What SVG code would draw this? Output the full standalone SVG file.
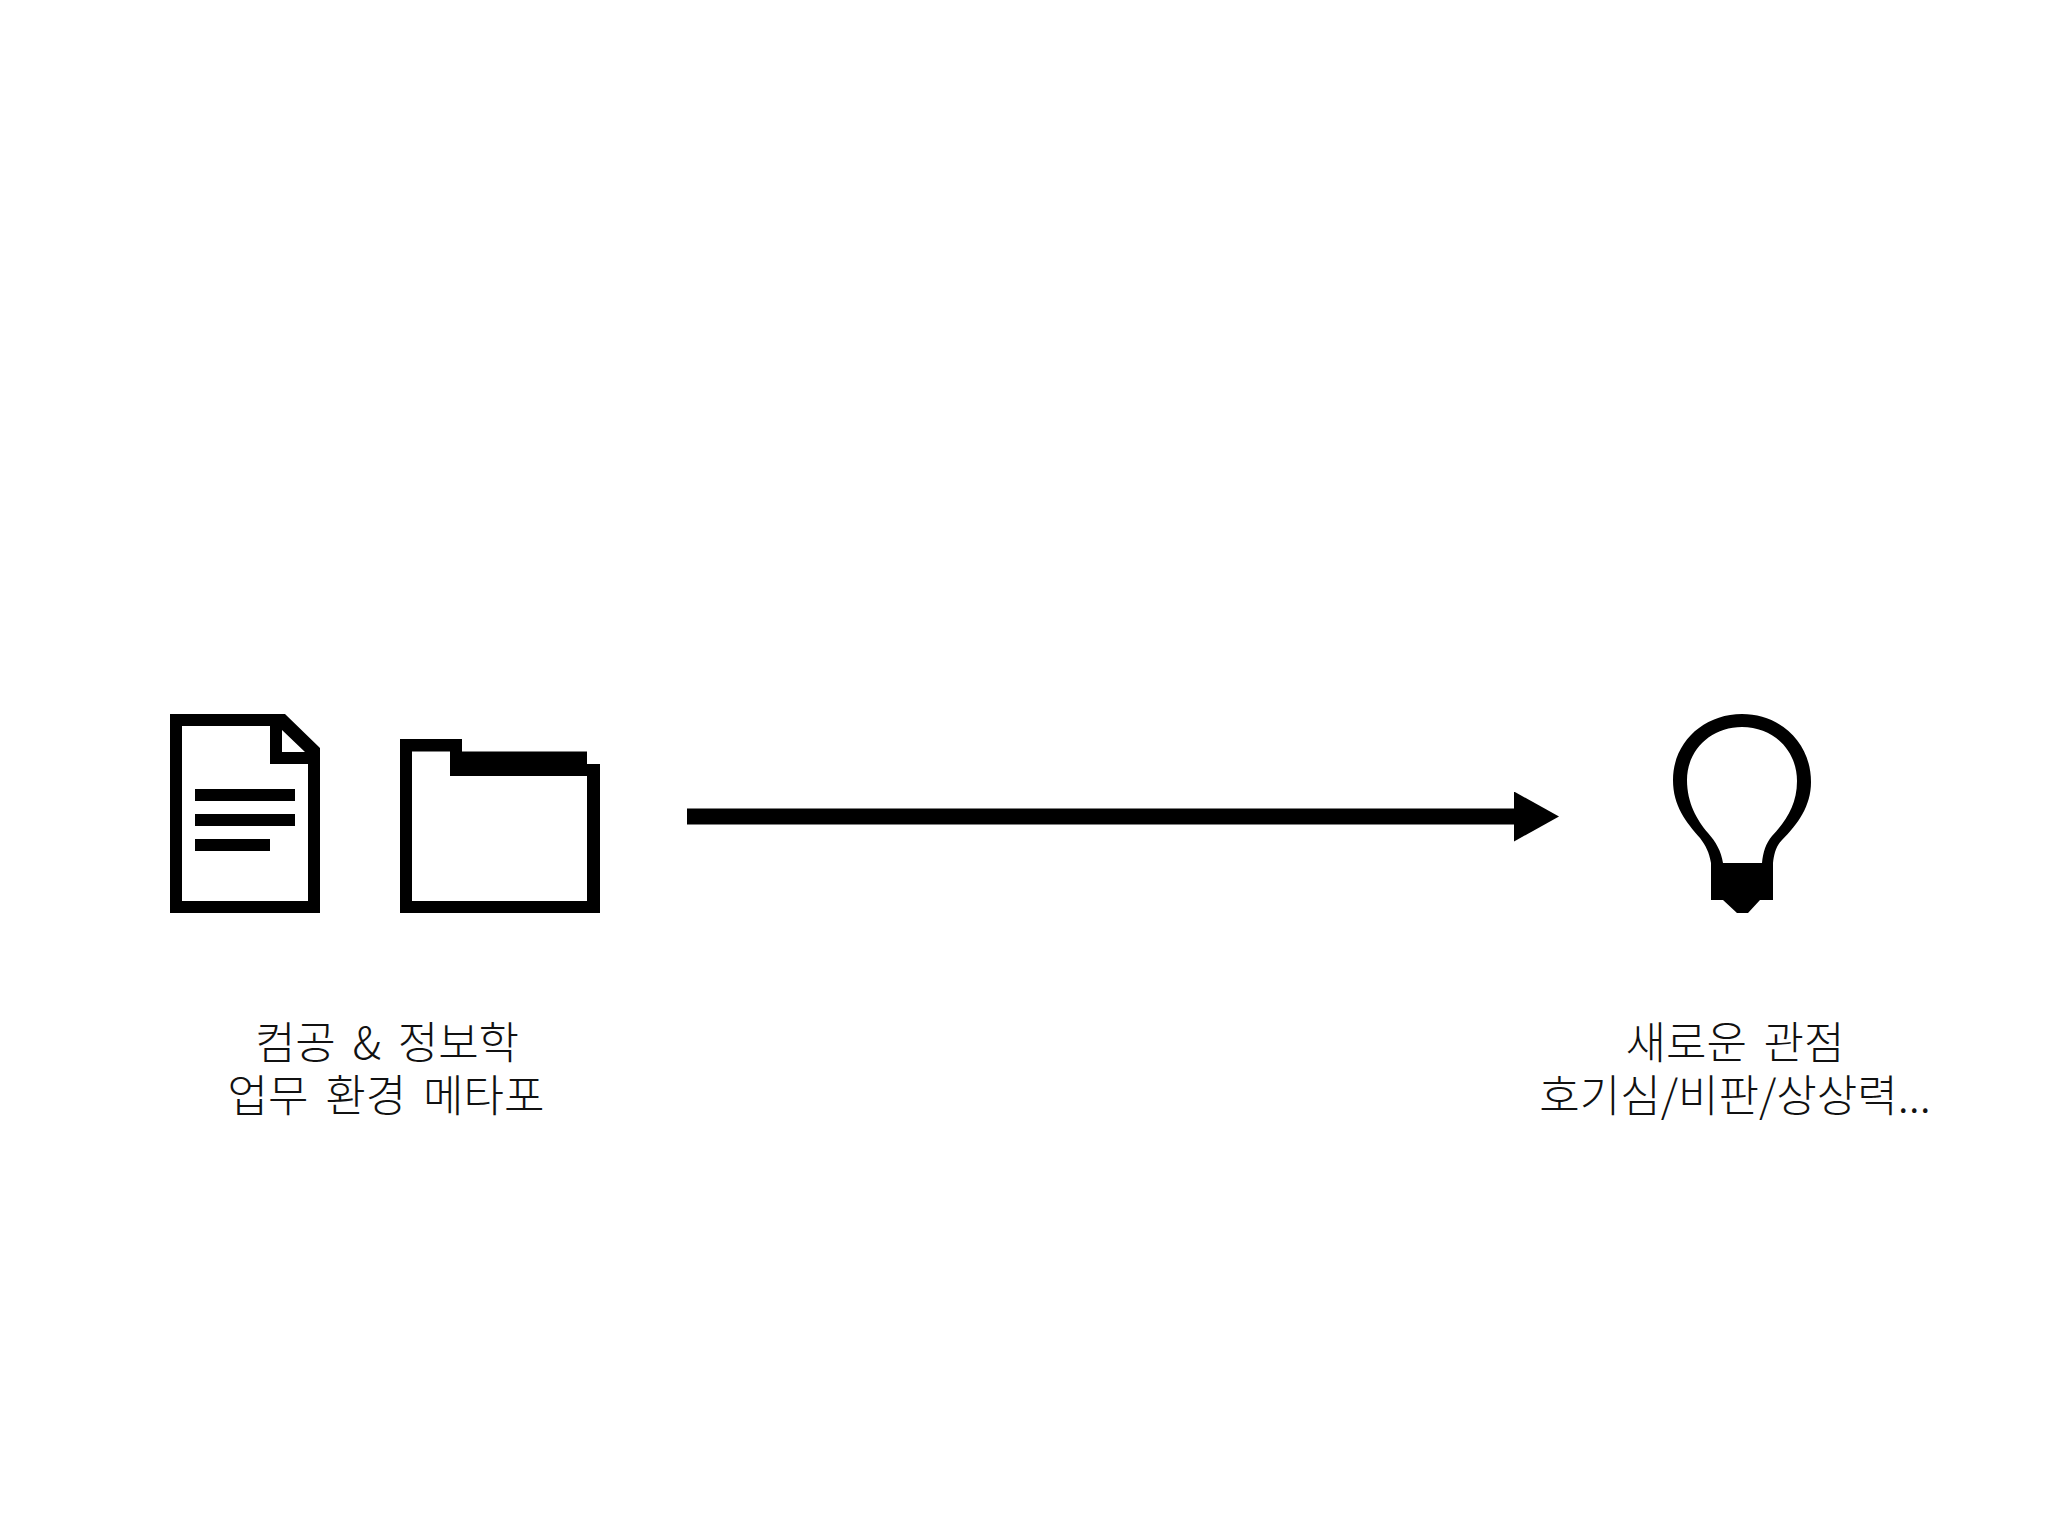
<svg xmlns="http://www.w3.org/2000/svg" width="2048" height="1536" viewBox="0 0 2048 1536">
<style>
.i{fill:#000;fill-rule:evenodd}
.t{font-family:"Noto Sans CJK KR","Noto Sans",sans-serif;font-weight:300;font-size:44px;fill:#111;text-anchor:middle;word-spacing:7px}
</style>
<defs>
<marker id="ah" markerUnits="userSpaceOnUse" markerWidth="45" markerHeight="50" refX="1" refY="25" orient="auto">
<path d="M0 0L45 25L0 50Z" fill="#000"/>
</marker>
</defs>
<rect width="2048" height="1536" fill="#fff"/>
<g id="connectors">
<line x1="687" y1="816.500" x2="1515" y2="816.500" stroke="#000" stroke-width="16" marker-end="url(#ah)"/>
</g>
<g id="document">
<path class="i" d="M170 714H285L320 748V913H170ZM182 726V901H308V764H270V726ZM282 730V752H305Z"/>
<path class="i" d="M195 789H295V801H195ZM195 814H295V826H195ZM195 839H270V851H195Z"/>
</g>
<g id="folder">
<path class="i" d="M400 739H462V751.500H587V764H600V913H400ZM412 751.500V901H587V776H450V751.500Z"/>
</g>
<g id="bulb">
<path class="i" d="M1711 900V863C1709 852 1706 846 1700 838C1686 822 1673 806 1673 780C1673 742 1704 714 1742 714C1780 714 1811 742 1811 782C1811 806 1798 824 1782 840C1776 846 1774 854 1773 863V900H1760L1748 913H1737L1723 900ZM1723 863H1762C1763 852 1766 843 1772 836C1786 821 1797 805 1797 781C1797 750 1773 727 1742 727C1711 727 1687 750 1687 780C1687 803 1697 820 1708 833C1716 842 1721 851 1723 863Z"/>
</g>
<g id="label-left">
<text class="t"><tspan x="387" y="1059">컴공 &amp; 정보학</tspan><tspan x="386" y="1112">업무 환경 메타포</tspan></text>
</g>
<g id="label-right">
<text class="t"><tspan x="1735" y="1059">새로운 관점</tspan><tspan x="1735" y="1112">호기심/비판/상상력...</tspan></text>
</g>
</svg>
